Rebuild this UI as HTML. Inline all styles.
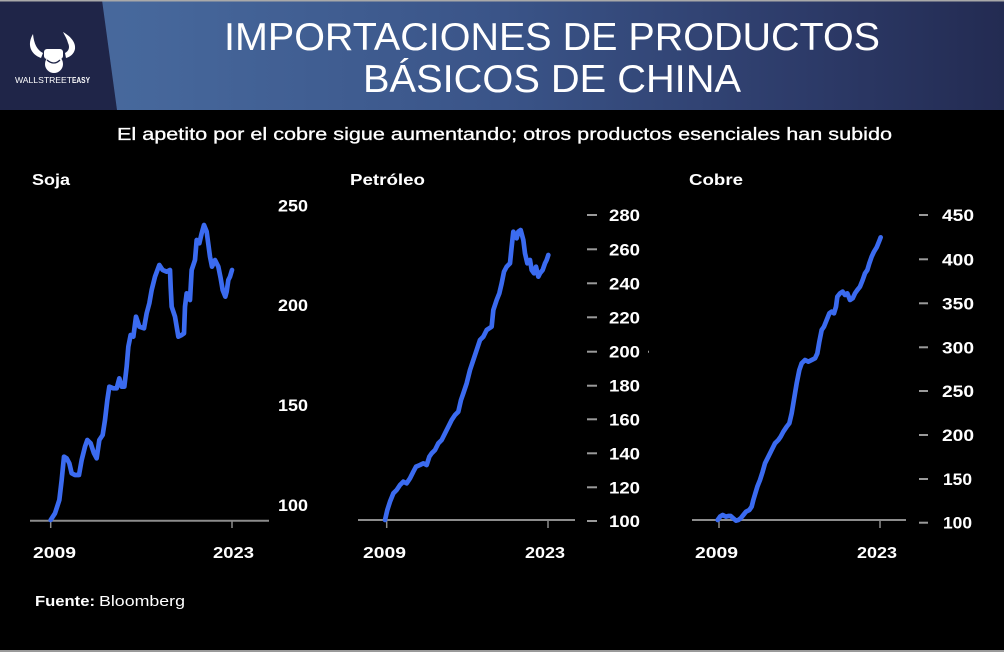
<!DOCTYPE html>
<html><head><meta charset="utf-8"><style>
html,body{margin:0;padding:0;background:#000;}
svg{display:block;}
text{font-family:"Liberation Sans",sans-serif;fill:#fff;}
</style></head><body>
<svg width="1004" height="652" viewBox="0 0 1004 652" xmlns="http://www.w3.org/2000/svg">
<defs>
<linearGradient id="hg" x1="0" y1="0" x2="1" y2="0">
<stop offset="0" stop-color="#4a6c9f"/>
<stop offset="0.15" stop-color="#46679b"/>
<stop offset="0.5" stop-color="#3a5488"/>
<stop offset="0.8" stop-color="#2d3b69"/>
<stop offset="1" stop-color="#232b52"/>
</linearGradient>
</defs>
<rect x="0" y="0" width="1004" height="652" fill="#000"/>
<rect x="0" y="0" width="1004" height="110" fill="url(#hg)"/>
<polygon points="0,0 102,0 117,110 0,110" fill="#1f2548"/>
<rect x="0" y="0" width="1004" height="1.5" fill="#a9a9a9"/>
<rect x="0" y="650" width="1004" height="2" fill="#9a9a9a"/>

<!-- logo -->
<g fill="#fff">
<path d="M33,34 C27,44 30,54 41,58 L43,53 C37,50 34,44 33,34 Z"/>
<path d="M63,32 C70,36 76,42 75,49 C74,54 70,57 66,58 L65,53 C69,51 70,47 68,43 C67,39 65,36 63,32 Z"/>
<rect x="44" y="49" width="19" height="10" rx="3"/>
<circle cx="54" cy="64" r="9"/>
</g>
<path d="M47,60 Q54,66 60,60" stroke="#1f2548" stroke-width="1.3" fill="none"/>
<text x="15" y="83" font-size="8.5" textLength="57" lengthAdjust="spacingAndGlyphs">WALLSTREET</text>
<text x="72" y="83" font-size="8.5" font-weight="bold" textLength="18" lengthAdjust="spacingAndGlyphs">EASY</text>

<!-- title -->
<text x="224" y="50" font-size="39" textLength="656" lengthAdjust="spacingAndGlyphs">IMPORTACIONES DE PRODUCTOS</text>
<text x="363" y="92" font-size="39" textLength="378" lengthAdjust="spacingAndGlyphs">BÁSICOS DE CHINA</text>

<text x="117" y="140" font-size="17.5" textLength="775" lengthAdjust="spacingAndGlyphs" stroke="#fff" stroke-width="0.3">El apetito por el cobre sigue aumentando; otros productos esenciales han subido</text>

<!-- chart titles -->
<text x="32" y="185" font-size="16" font-weight="bold" textLength="38" lengthAdjust="spacingAndGlyphs">Soja</text>
<text x="350" y="185" font-size="16" font-weight="bold" textLength="75" lengthAdjust="spacingAndGlyphs">Petróleo</text>
<text x="689" y="185" font-size="16" font-weight="bold" textLength="54" lengthAdjust="spacingAndGlyphs">Cobre</text>

<!-- Soja axes -->
<g stroke="#8c8c8c">
<line x1="30" y1="520.7" x2="269" y2="520.7" stroke-width="2"/>
<line x1="50.7" y1="521" x2="50.7" y2="528" stroke-width="1.5"/>
<line x1="232" y1="521" x2="232" y2="528" stroke-width="1.5"/>
</g>
<g font-size="17" font-weight="bold">
<text x="278" y="211.5" textLength="30" lengthAdjust="spacingAndGlyphs">250</text>
<text x="278" y="311" textLength="30" lengthAdjust="spacingAndGlyphs">200</text>
<text x="278" y="411" textLength="30" lengthAdjust="spacingAndGlyphs">150</text>
<text x="278" y="511" textLength="30" lengthAdjust="spacingAndGlyphs">100</text>
</g>
<g font-size="16" font-weight="bold">
<text x="33" y="558" textLength="43" lengthAdjust="spacingAndGlyphs">2009</text>
<text x="213" y="558" textLength="41" lengthAdjust="spacingAndGlyphs">2023</text>
</g>
<g transform="translate(0,160) scale(0.33333)">
<polyline fill="none" stroke="#3b6bf0" stroke-width="14" stroke-linejoin="round" stroke-linecap="round"
points="152,1080 165,1060 178,1020 185,960 192,890 200,895 208,910 215,940 225,945 237,945 245,900 255,860 262,840 272,850 282,880 290,895 298,840 308,825 315,780 322,720 328,680 340,685 350,685 358,655 365,680 373,680 380,620 385,560 392,525 400,530 408,470 418,500 432,505 440,460 448,430 455,390 465,350 478,315 488,330 500,335 510,330 512,380 515,440 525,470 535,530 545,525 552,520 555,440 560,400 570,420 575,330 585,300 590,240 598,250 605,220 612,195 620,215 630,290 636,320 645,300 655,320 662,355 668,390 676,410 680,395 685,360 690,350 696,330"/>
</g>

<!-- Petroleo axes -->
<g stroke="#8c8c8c">
<line x1="358" y1="520" x2="575" y2="520" stroke-width="2"/>
<line x1="386.7" y1="520" x2="386.7" y2="528" stroke-width="1.5"/>
<line x1="548" y1="520" x2="548" y2="528" stroke-width="1.5"/>
</g>
<g stroke="#9a9a9a" stroke-width="2">
<line x1="587" y1="215" x2="597" y2="215"/>
<line x1="587" y1="249.3" x2="597" y2="249.3"/>
<line x1="587" y1="283.3" x2="597" y2="283.3"/>
<line x1="587" y1="317.3" x2="597" y2="317.3"/>
<line x1="587" y1="351.7" x2="597" y2="351.7"/>
<line x1="587" y1="385.7" x2="597" y2="385.7"/>
<line x1="587" y1="419.3" x2="597" y2="419.3"/>
<line x1="587" y1="453.3" x2="597" y2="453.3"/>
<line x1="587" y1="487.3" x2="597" y2="487.3"/>
<line x1="587" y1="521" x2="597" y2="521"/>
<line x1="648" y1="351.7" x2="649" y2="351.7"/>
</g>
<g font-size="17" font-weight="bold">
<text x="609" y="221" textLength="31" lengthAdjust="spacingAndGlyphs">280</text>
<text x="609" y="255.3" textLength="31" lengthAdjust="spacingAndGlyphs">260</text>
<text x="609" y="289.3" textLength="31" lengthAdjust="spacingAndGlyphs">240</text>
<text x="609" y="323.3" textLength="31" lengthAdjust="spacingAndGlyphs">220</text>
<text x="609" y="357.7" textLength="31" lengthAdjust="spacingAndGlyphs">200</text>
<text x="609" y="391.7" textLength="31" lengthAdjust="spacingAndGlyphs">180</text>
<text x="609" y="425.3" textLength="31" lengthAdjust="spacingAndGlyphs">160</text>
<text x="609" y="459.3" textLength="31" lengthAdjust="spacingAndGlyphs">140</text>
<text x="609" y="493.3" textLength="31" lengthAdjust="spacingAndGlyphs">120</text>
<text x="609" y="527" textLength="31" lengthAdjust="spacingAndGlyphs">100</text>
</g>
<g font-size="16" font-weight="bold">
<text x="363" y="558" textLength="43" lengthAdjust="spacingAndGlyphs">2009</text>
<text x="525" y="558" textLength="40" lengthAdjust="spacingAndGlyphs">2023</text>
</g>
<g transform="translate(330,160) scale(0.33333)">
<polyline fill="none" stroke="#3b6bf0" stroke-width="14" stroke-linejoin="round" stroke-linecap="round"
points="165,1080 172,1050 180,1025 190,1000 200,990 210,975 220,965 230,970 240,955 250,935 258,920 270,915 280,910 290,915 298,890 305,880 315,870 325,850 335,840 345,820 355,800 365,780 375,765 385,755 393,720 400,700 410,670 420,630 430,600 440,570 450,540 460,530 470,510 485,500 490,450 500,420 508,400 515,370 522,335 530,320 540,310 545,260 550,215 555,225 560,235 565,215 572,210 580,240 585,280 592,310 600,300 605,330 612,340 618,320 625,350 630,340 638,330 645,310 650,300 655,285"/>
</g>

<!-- Cobre axes -->
<g stroke="#8c8c8c">
<line x1="692" y1="520" x2="906" y2="520" stroke-width="2"/>
<line x1="719" y1="520" x2="719" y2="528" stroke-width="1.5"/>
<line x1="880" y1="520" x2="880" y2="528" stroke-width="1.5"/>
</g>
<g stroke="#9a9a9a" stroke-width="2">
<line x1="919" y1="215" x2="928" y2="215"/>
<line x1="919" y1="259.3" x2="928" y2="259.3"/>
<line x1="919" y1="303.3" x2="928" y2="303.3"/>
<line x1="919" y1="347.3" x2="928" y2="347.3"/>
<line x1="919" y1="391" x2="928" y2="391"/>
<line x1="919" y1="435" x2="928" y2="435"/>
<line x1="919" y1="479" x2="928" y2="479"/>
<line x1="919" y1="522.7" x2="928" y2="522.7"/>
</g>
<g font-size="17" font-weight="bold">
<text x="942" y="221" textLength="32" lengthAdjust="spacingAndGlyphs">450</text>
<text x="942" y="265.3" textLength="32" lengthAdjust="spacingAndGlyphs">400</text>
<text x="942" y="309.3" textLength="32" lengthAdjust="spacingAndGlyphs">350</text>
<text x="942" y="353.3" textLength="32" lengthAdjust="spacingAndGlyphs">300</text>
<text x="942" y="397" textLength="32" lengthAdjust="spacingAndGlyphs">250</text>
<text x="942" y="441" textLength="32" lengthAdjust="spacingAndGlyphs">200</text>
<text x="943" y="485" textLength="29" lengthAdjust="spacingAndGlyphs">150</text>
<text x="943" y="528.7" textLength="29" lengthAdjust="spacingAndGlyphs">100</text>
</g>
<g font-size="16" font-weight="bold">
<text x="695" y="558" textLength="43" lengthAdjust="spacingAndGlyphs">2009</text>
<text x="857" y="558" textLength="40" lengthAdjust="spacingAndGlyphs">2023</text>
</g>
<g transform="translate(670,160) scale(0.33333)">
<polyline fill="none" stroke="#3b6bf0" stroke-width="14" stroke-linejoin="round" stroke-linecap="round"
points="143,1080 150,1070 158,1065 168,1070 175,1068 182,1068 190,1075 198,1082 205,1080 212,1075 220,1065 228,1055 238,1050 245,1040 250,1020 256,1000 262,980 270,960 278,935 285,910 295,890 305,870 315,850 325,840 332,830 340,815 350,800 358,790 365,760 370,730 375,700 380,670 388,630 395,610 405,600 415,605 425,600 435,595 442,580 448,545 455,510 462,500 470,480 478,460 485,455 492,460 498,440 502,410 510,400 518,395 525,405 532,400 540,420 548,415 555,400 562,390 570,380 578,360 585,340 592,330 598,310 605,290 612,275 620,262 627,245 632,232"/>
</g>

<!-- footer -->
<text x="35" y="606" font-size="15" font-weight="bold" textLength="60" lengthAdjust="spacingAndGlyphs">Fuente:</text>
<text x="99" y="606" font-size="15" textLength="86" lengthAdjust="spacingAndGlyphs">Bloomberg</text>
</svg>
</body></html>
